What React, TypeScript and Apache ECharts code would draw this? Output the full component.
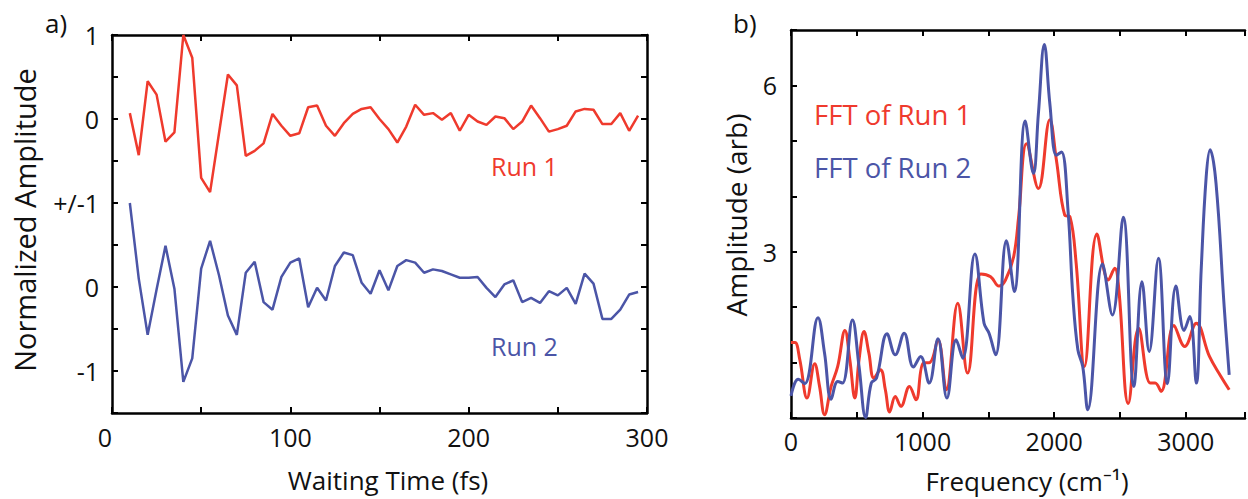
import React, { useEffect, useRef } from "react";
import * as echarts from "echarts";

// ---------- Panel a) : time traces ----------
const waitingTimes = [
  10, 15, 20, 25, 30, 35, 40, 45, 50, 55, 60, 65, 70, 75, 80, 85, 90, 95, 100, 105,
  110, 115, 120, 125, 130, 135, 140, 145, 150, 155, 160, 165, 170, 175, 180, 185, 190, 195, 200, 205,
  210, 215, 220, 225, 230, 235, 240, 245, 250, 255, 260, 265, 270, 275, 280, 285, 290, 295,
];
const run1 = [
  0.07, -0.43, 0.45, 0.29, -0.27, -0.16, 1.0, 0.73, -0.7, -0.87, -0.17, 0.53, 0.4, -0.44, -0.38, -0.29, 0.06, -0.08, -0.2, -0.17,
  0.14, 0.16, -0.08, -0.2, -0.05, 0.06, 0.12, 0.14, 0.0, -0.12, -0.28, -0.09, 0.17, 0.05, 0.07, -0.01, 0.07, -0.14, 0.05, -0.03,
  -0.07, 0.03, 0.01, -0.12, -0.03, 0.16, 0.01, -0.15, -0.12, -0.08, 0.09, 0.12, 0.11, -0.06, -0.06, 0.07, -0.14, 0.04,
];
const run2 = [
  1.0, 0.1, -0.57, -0.03, 0.49, -0.02, -1.13, -0.85, 0.22, 0.55, 0.14, -0.34, -0.57, 0.17, 0.3, -0.18, -0.27, 0.12, 0.29, 0.34,
  -0.24, -0.01, -0.16, 0.25, 0.41, 0.38, 0.05, -0.08, 0.2, -0.04, 0.25, 0.32, 0.29, 0.17, 0.21, 0.19, 0.15, 0.11, 0.11, 0.12,
  -0.01, -0.12, 0.03, 0.08, -0.18, -0.13, -0.19, -0.05, -0.1, -0.01, -0.2, 0.16, 0.04, -0.38, -0.38, -0.27, -0.09, -0.06,
];
const run2Offset = -2;
const leftYTickValues = [1, 0, -1, -2, -3];
const leftYTickTexts = ["1", "0", "+/-1", "0", "-1"];
const leftXTickLabels = [0, 100, 200, 300];

// ---------- Panel b) : FFT amplitudes ----------
const fft1Freq = [
  0, 30, 67, 122, 180, 217, 255, 305, 355, 410, 447, 485, 517, 555, 592, 630, 680, 717, 750, 792,
  835, 900, 950, 1005, 1055, 1117, 1180, 1267, 1342, 1442, 1517, 1580, 1630, 1692, 1730, 1790, 1880, 1967, 2017, 2080,
  2120, 2167, 2230, 2325, 2412, 2460, 2492, 2563, 2642, 2730, 2767, 2812, 2910, 2992, 3080, 3180, 3267, 3330,
];
const fft1Amp = [
  1.36, 1.36, 1.05, 0.36, 0.98, 0.57, 0.06, 0.57, 0.93, 1.58, 1.05, 0.36, 1.05, 1.56, 1.17, 0.72, 0.87, 0.51, 0.11, 0.39,
  0.21, 0.57, 0.33, 0.99, 1.0, 1.41, 0.51, 2.07, 0.81, 2.6, 2.55, 2.38, 2.49, 2.91, 3.63, 4.95, 4.14, 5.38, 4.65, 3.66,
  3.63, 2.79, 0.93, 3.32, 2.49, 2.7, 2.3, 0.26, 1.62, 0.63, 0.63, 0.48, 1.67, 1.29, 1.71, 1.11, 0.75, 0.51,
];
const fft2Freq = [
  0, 55, 105, 205, 255, 305, 355, 392, 467, 517, 567, 610, 650, 730, 792, 860, 930, 985, 1050, 1117,
  1185, 1255, 1305, 1397, 1467, 1505, 1555, 1637, 1697, 1780, 1842, 1880, 1925, 1967, 2017, 2055, 2105, 2142, 2180, 2217,
  2255, 2367, 2442, 2525, 2605, 2667, 2722, 2792, 2860, 2925, 2987, 3030, 3080, 3117, 3155, 3185, 3230, 3292, 3330,
];
const fft2Amp = [
  0.4, 0.7, 0.62, 1.81, 1.17, 0.34, 0.66, 0.63, 1.77, 0.93, 0.01, 0.63, 0.72, 1.52, 1.14, 1.53, 0.92, 1.11, 0.63, 1.43,
  0.36, 1.41, 1.08, 2.96, 1.71, 1.53, 1.14, 3.2, 2.28, 5.36, 4.41, 5.49, 6.74, 5.67, 4.74, 4.8, 3.75, 2.19, 1.23, 0.93,
  0.15, 2.78, 1.86, 3.62, 0.57, 2.46, 1.2, 2.88, 0.62, 2.38, 1.58, 1.83, 0.63, 2.67, 4.35, 4.84, 4.23, 2.0, 0.78,
];
const rightYTickLabels = [3, 6];
const rightXTickLabels = [0, 1000, 2000, 3000];

const RED = "#ef3a2d";
const BLUE = "#4b55a7";
const FONT = "Open Sans";

export default function App() {
  const ref = useRef<HTMLDivElement>(null);

  useEffect(() => {
    if (!ref.current) return;
    const chart = echarts.init(ref.current, undefined, { renderer: "svg" });

    const axisLine = { show: true, onZero: false, lineStyle: { color: "#000", width: 2.5 } };
    const axisTick = { show: true, inside: true, length: 6, lineStyle: { color: "#000", width: 2 } };
    const labelBase = { fontSize: 25, color: "#111", fontFamily: FONT, showMinLabel: true, showMaxLabel: true };
    const hidden = { show: false };

    const option: any = {
      animation: false,
      backgroundColor: "#fff",
      grid: [
        { left: 112, top: 35, width: 535, height: 378 },
        { left: 791, top: 30, width: 460, height: 388 },
      ],
      xAxis: [
        {
          gridIndex: 0, type: "value", min: 0, max: 300, interval: 50, position: "bottom",
          axisLine, axisTick, splitLine: hidden,
          axisLabel: {
            ...labelBase, margin: 11,
            formatter: (v: number) => {
              const r = Math.round(v);
              if (!leftXTickLabels.includes(r)) return "";
              return r === 0 ? "{z|0}" : String(r);
            },
            rich: { z: { fontSize: 25, color: "#111", fontFamily: FONT, padding: [0, 14, 0, 0] } },
          },
          name: "Waiting Time (fs)", nameLocation: "middle", nameGap: 54,
          nameTextStyle: { fontSize: 26, color: "#111", fontFamily: FONT, padding: [0, 0, 0, 17] },
        },
        {
          gridIndex: 0, type: "value", min: 0, max: 300, interval: 50, position: "top",
          axisLine, axisTick, splitLine: hidden, axisLabel: hidden,
        },
        {
          gridIndex: 1, type: "value", min: 0, max: 3450, interval: 500, position: "bottom",
          axisLine, axisTick, splitLine: hidden,
          axisLabel: {
            ...labelBase, margin: 10,
            formatter: (v: number) => (rightXTickLabels.includes(Math.round(v)) ? String(Math.round(v)) : ""),
          },
          name: "Frequency (cm⁻¹)", nameLocation: "middle", nameGap: 50,
          nameTextStyle: { fontSize: 26, color: "#111", fontFamily: FONT, padding: [0, 0, 0, 18] },
        },
        {
          gridIndex: 1, type: "value", min: 0, max: 3450, interval: 500, position: "top",
          axisLine, axisTick, splitLine: hidden, axisLabel: hidden,
        },
      ],
      yAxis: [
        {
          gridIndex: 0, type: "value", min: -3.5, max: 1, interval: 0.5, position: "left",
          axisLine, axisTick, splitLine: hidden,
          axisLabel: {
            ...labelBase, margin: 13,
            formatter: (v: number) => {
              const i = leftYTickValues.findIndex((t) => Math.abs(t - v) < 1e-6);
              return i >= 0 ? leftYTickTexts[i] : "";
            },
          },
          name: "Normalized Amplitude", nameLocation: "middle", nameGap: 73,
          nameTextStyle: { fontSize: 29, color: "#111", fontFamily: FONT, padding: [0, 0, 0, 8] },
        },
        {
          gridIndex: 0, type: "value", min: -3.5, max: 1, interval: 0.5, position: "right",
          axisLine, axisTick, splitLine: hidden, axisLabel: hidden,
        },
        {
          gridIndex: 1, type: "value", min: 0, max: 7, interval: 1, position: "left",
          axisLine, axisTick, splitLine: hidden,
          axisLabel: {
            ...labelBase, margin: 14,
            formatter: (v: number) => (rightYTickLabels.includes(Math.round(v)) && Math.abs(v - Math.round(v)) < 1e-6 ? String(Math.round(v)) : ""),
          },
          name: "Amplitude (arb)", nameLocation: "middle", nameGap: 41,
          nameTextStyle: { fontSize: 28, color: "#111", fontFamily: FONT, padding: [0, 0, 0, 18] },
        },
      ],
      series: [
        {
          type: "line", xAxisIndex: 0, yAxisIndex: 0, showSymbol: false,
          data: waitingTimes.map((t, i) => [t, run1[i]]),
          lineStyle: { color: RED, width: 2.5 }, itemStyle: { color: RED },
        },
        {
          type: "line", xAxisIndex: 0, yAxisIndex: 0, showSymbol: false,
          data: waitingTimes.map((t, i) => [t, run2[i] + run2Offset]),
          lineStyle: { color: BLUE, width: 2.5 }, itemStyle: { color: BLUE },
        },
        {
          type: "line", xAxisIndex: 2, yAxisIndex: 2, showSymbol: false, smooth: 0.4,
          data: fft1Freq.map((f, i) => [f, fft1Amp[i]]),
          lineStyle: { color: RED, width: 3 }, itemStyle: { color: RED },
        },
        {
          type: "line", xAxisIndex: 2, yAxisIndex: 2, showSymbol: false, smooth: 0.4,
          data: fft2Freq.map((f, i) => [f, fft2Amp[i]]),
          lineStyle: { color: BLUE, width: 3 }, itemStyle: { color: BLUE },
        },
      ],
      graphic: [
        { type: "text", x: 45, y: 23, style: { text: "a)", fontSize: 26, fontFamily: FONT, fill: "#111", align: "left", verticalAlign: "middle" } },
        { type: "text", x: 733, y: 23, style: { text: "b)", fontSize: 26, fontFamily: FONT, fill: "#111", align: "left", verticalAlign: "middle" } },
        { type: "text", x: 491, y: 166, style: { text: "Run 1", fontSize: 25, fontFamily: FONT, fill: RED, align: "left", verticalAlign: "middle" } },
        { type: "text", x: 491, y: 346, style: { text: "Run 2", fontSize: 25, fontFamily: FONT, fill: BLUE, align: "left", verticalAlign: "middle" } },
        { type: "text", x: 814, y: 114, style: { text: "FFT of Run 1", fontSize: 27.5, fontFamily: FONT, fill: RED, align: "left", verticalAlign: "middle" } },
        { type: "text", x: 814, y: 167, style: { text: "FFT of Run 2", fontSize: 27.5, fontFamily: FONT, fill: BLUE, align: "left", verticalAlign: "middle" } },
      ],
    };

    chart.setOption(option);
    return () => chart.dispose();
  }, []);

  return <div ref={ref} style={{ position: "absolute", left: 0, top: 0, width: 1248, height: 499 }} />;
}
